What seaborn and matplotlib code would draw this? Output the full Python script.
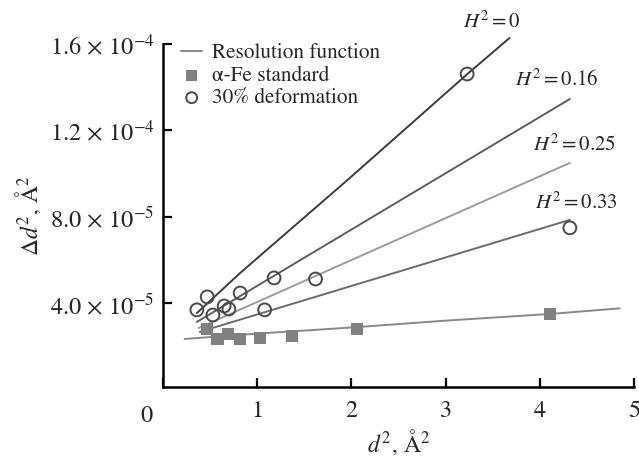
import numpy as np
import pandas as pd
import seaborn as sns
import matplotlib.pyplot as plt

# values (y in units of 1e-5 A^2)
res_x = [0.23, 1.0, 1.61, 2.09, 3.0, 4.11, 4.85]
res_y = [2.33, 2.58, 2.75, 2.89, 3.18, 3.49, 3.75]

fe_x = [0.47, 0.58, 0.69, 0.82, 1.03, 1.37, 2.06, 4.11]
fe_y = [2.79, 2.33, 2.56, 2.33, 2.38, 2.47, 2.79, 3.49]

def_x = [0.36, 0.47, 0.53, 0.65, 0.70, 0.82, 1.08, 1.18, 1.62, 3.23, 4.32]
def_y = [3.68, 4.28, 3.44, 3.86, 3.72, 4.46, 3.68, 5.16, 5.11, 14.61, 7.48]

h0_x = [0.36, 0.82, 1.96, 3.23, 3.68]
h0_y = [3.53, 5.39, 9.70, 14.6, 16.28]
h16_x = [0.36, 4.32]
h16_y = [3.12, 13.45]
h25_x = [0.38, 4.32]
h25_y = [2.84, 10.49]
h33_x = [0.39, 4.32]
h33_y = [2.66, 7.85]

fit_labels = [r'$H^2 = 0$', r'$H^2 = 0.16$', r'$H^2 = 0.25$', r'$H^2 = 0.33$']
yticks = [4e-5, 8e-5, 1.2e-4, 1.6e-4]
ytick_labels = [r'$4.0\,\times\,10^{-5}$', r'$8.0\,\times\,10^{-5}$',
                r'$1.2\,\times\,10^{-4}$', r'$1.6\,\times\,10^{-4}$']

sns.set_style('ticks')
plt.rcParams['font.family'] = ['STIXGeneral', 'DejaVu Serif']
plt.rcParams['mathtext.fontset'] = 'stix'

fig = plt.figure(figsize=(6.39, 4.67), dpi=100)
ax = fig.add_axes([0.255, 0.172, 0.737, 0.780])

sc = 1e-5
sns.lineplot(x=res_x, y=np.array(res_y) * sc, ax=ax, color='#888888', lw=1.4,
             label='Resolution function')
fits = [(h0_x, h0_y, '#3c3c3c'), (h16_x, h16_y, '#5e5e5e'),
        (h25_x, h25_y, '#9c9c9c'), (h33_x, h33_y, '#6c6c6c')]
for fx, fy, c in fits:
    sns.lineplot(x=fx, y=np.array(fy) * sc, ax=ax, color=c, lw=1.4)
sns.scatterplot(x=fe_x, y=np.array(fe_y) * sc, ax=ax, marker='s', s=80,
                color='#808080', edgecolor='none', label='α-Fe standard', zorder=5)
sns.scatterplot(x=def_x, y=np.array(def_y) * sc, ax=ax, marker='o', s=85,
                facecolor='none', edgecolor='#4a4a4a', linewidth=1.4,
                label='30% deformation', zorder=6)

label_pos = [(3.49, 17.02), (4.18, 14.34), (4.37, 11.32), (4.39, 8.63)]
for (tx, ty), t in zip(label_pos, fit_labels):
    ax.text(tx, ty * sc, t, ha='center', va='center', fontsize=15, clip_on=False)

ax.set_xlim(0, 5)
ax.set_ylim(0.12e-5, 1.70e-4)
ax.set_yticks(yticks)
ax.set_yticklabels(ytick_labels)
ax.set_xticks([0, 1, 2, 3, 4, 5])
ax.set_xticklabels(['', '1', '2', '3', '4', '5'])
ax.text(-0.17, -0.08, '0', transform=ax.get_xaxis_transform(), ha='center', va='center', fontsize=17.5)
ax.tick_params(axis='both', direction='in', length=6.5, width=1.6, labelsize=17.5, color='black')
ax.tick_params(axis='x', pad=10)
ax.tick_params(axis='y', pad=6)
sns.despine(ax=ax)
ax.spines['left'].set_bounds(0.12e-5, 1.6e-4)
for s in ['left', 'bottom']:
    ax.spines[s].set_linewidth(1.8)
    ax.spines[s].set_color('black')

ax.set_xlabel(r'$d^2$, Å$^2$', fontsize=17, labelpad=4)
ax.set_ylabel(r'$\Delta d^2$, Å$^2$', fontsize=17, labelpad=2)
ax.yaxis.set_label_coords(-0.255, 0.47)

h, l = ax.get_legend_handles_labels()
leg = ax.legend(h[:3], l[:3], loc='upper left', bbox_to_anchor=(0.27, 0.925),
                bbox_transform=fig.transFigure, frameon=False, fontsize=15.3,
                handlelength=1.0, handletextpad=0.45, labelspacing=0.12, borderaxespad=0,
                markerscale=0.85)

fig.savefig('out.png', dpi=100)
